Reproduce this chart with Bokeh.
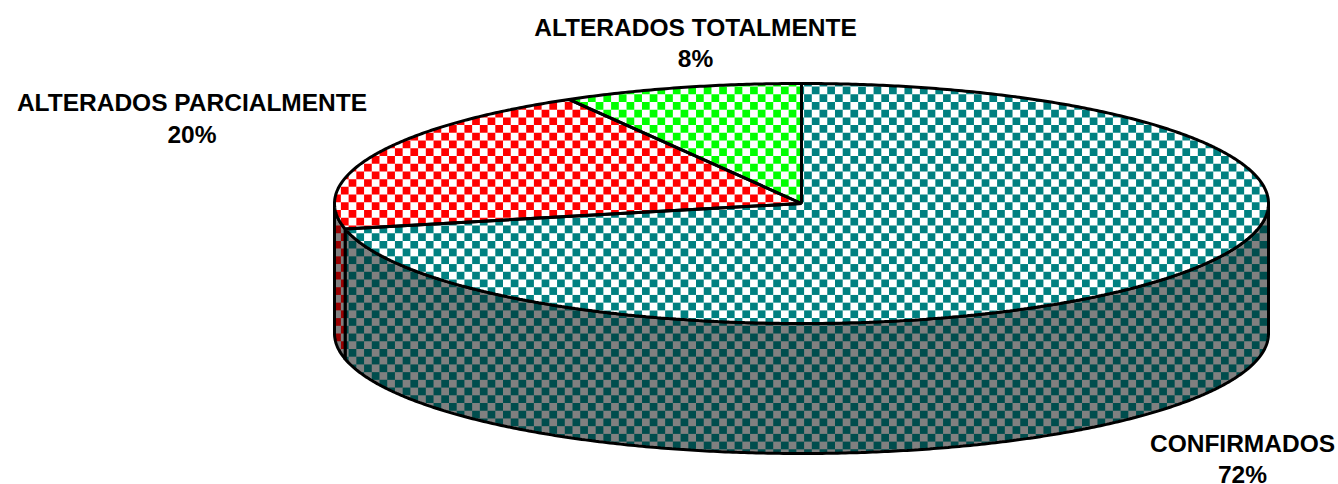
import math
from bokeh.plotting import figure
from bokeh.embed import file_html
from bokeh.resources import INLINE
from bokeh.core.properties import value

categories = ["CONFIRMADOS", "ALTERADOS PARCIALMENTE", "ALTERADOS TOTALMENTE"]
shares = [71.6, 20.1, 8.3]
percent_labels = ["72%", "20%", "8%"]
top_colors = ["#008080", "#ff0000", "#00ff00"]
side_colors = ["#004d4d", "#990000", "#009900"]

W, H = 1338, 484
CX, CY, A, B, DEPTH = 801, 203, 467, 120, 130
CELL, X0, Y0 = 7.72, 765, 86
label_pos = {"CONFIRMADOS": (1242, 442.5, 473.5), "ALTERADOS PARCIALMENTE": (191.5, 102, 133.5), "ALTERADOS TOTALMENTE": (695, 26.5, 57.5)}


def pt(t, dy=0.0):
    return CX + A * math.sin(t), CY - B * math.cos(t) + dy


def arc(t0, t1, dy=0.0):
    n = max(2, int(abs(t1 - t0) * 120))
    return [pt(t0 + (t1 - t0) * i / n, dy) for i in range(n + 1)]


def clip(poly, inside, cross):
    out = []
    for i, c in enumerate(poly):
        d = poly[i - 1]
        if inside(c):
            if not inside(d):
                out.append(cross(d, c))
            out.append(c)
        elif inside(d):
            out.append(cross(d, c))
    return out


def clip_rect(poly, x0, y0, x1, y1):
    def xc(v):
        return lambda a, b: (v, a[1] + (b[1] - a[1]) * (v - a[0]) / (b[0] - a[0]))

    def yc(v):
        return lambda a, b: (a[0] + (b[0] - a[0]) * (v - a[1]) / (b[1] - a[1]), v)

    for ins, cr in [
        (lambda p: p[0] >= x0, xc(x0)),
        (lambda p: p[0] <= x1, xc(x1)),
        (lambda p: p[1] >= y0, yc(y0)),
        (lambda p: p[1] <= y1, yc(y1)),
    ]:
        if not poly:
            return []
        poly = clip(poly, ins, cr)
    return poly


def checker(poly):
    xs0 = [q[0] for q in poly]
    ys0 = [q[1] for q in poly]
    i0 = math.floor((min(xs0) - X0) / CELL)
    i1 = math.ceil((max(xs0) - X0) / CELL)
    j0 = math.floor((min(ys0) - Y0) / CELL)
    j1 = math.ceil((max(ys0) - Y0) / CELL)
    xs, ys = [], []
    for i in range(i0, i1):
        for j in range(j0, j1):
            if (i + j) % 2:
                continue
            c = clip_rect(poly, X0 + i * CELL, Y0 + j * CELL, X0 + (i + 1) * CELL, Y0 + (j + 1) * CELL)
            if len(c) >= 3:
                xs.append([q[0] for q in c])
                ys.append([q[1] for q in c])
    return xs, ys


p = figure(width=W, height=H, x_range=(0, W), y_range=(H, 0), output_backend="svg",
           toolbar_location=None, min_border=0, outline_line_color=None, background_fill_color="white")
p.axis.visible = False
p.grid.visible = False

tot = sum(shares)
bounds = [0.0]
for s in shares:
    bounds.append(bounds[-1] + s / tot * 2 * math.pi)

# side wall
for k in range(3):
    t0 = max(bounds[k], math.pi / 2)
    t1 = min(bounds[k + 1], 3 * math.pi / 2)
    if t1 <= t0:
        continue
    poly = arc(t0, t1) + arc(t1, t0, DEPTH)
    p.patch([q[0] for q in poly], [q[1] for q in poly], fill_color="#808080", line_color=None)
    xs, ys = checker(poly)
    p.patches(xs, ys, fill_color=side_colors[k], line_color=None)
    q = poly
    p.line([a[0] for a in q] + [q[0][0]], [a[1] for a in q] + [q[0][1]], line_color="black", line_width=3)

# top
for k in range(3):
    poly = [(CX, CY)] + arc(bounds[k], bounds[k + 1])
    p.patch([q[0] for q in poly], [q[1] for q in poly], fill_color="white", line_color=None)
    xs, ys = checker(poly)
    p.patches(xs, ys, fill_color=top_colors[k], line_color=None)
for k in range(3):
    poly = [(CX, CY)] + arc(bounds[k], bounds[k + 1])
    p.line([a[0] for a in poly] + [CX], [a[1] for a in poly] + [CY], line_color="black", line_width=3)

for k, name in enumerate(categories):
    x, y1, y2 = label_pos[name]
    p.text([x, x], [y1, y2], text=[name, percent_labels[k]], text_font=value("Liberation Sans"),
           text_font_style="bold", text_font_size="24.5px", text_align="center", text_baseline="middle",
           text_color="black")

open("out.html", "w").write(file_html(p, INLINE))
